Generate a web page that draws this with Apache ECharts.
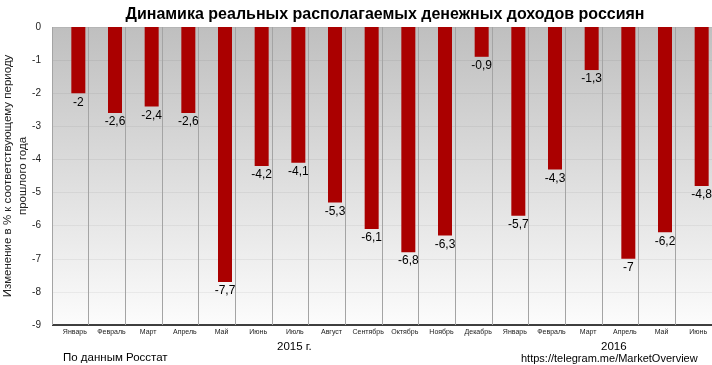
<!DOCTYPE html>
<html><head><meta charset="utf-8">
<script src="https://cdn.jsdelivr.net/npm/echarts@6/dist/echarts.min.js"></script>
<style>html,body{margin:0;padding:0;background:#fff}#c{width:712px;height:365px}</style>
</head><body><div id="c"></div>
<script>
var categories = ['Январь','Февраль','Март','Апрель','Май','Июнь','Июль','Август','Сентябрь','Октябрь','Ноябрь','Декабрь','Январь','Февраль','Март','Апрель','Май','Июнь'];
var values = [-2,-2.6,-2.4,-2.6,-7.7,-4.2,-4.1,-5.3,-6.1,-6.8,-6.3,-0.9,-5.7,-4.3,-1.3,-7,-6.2,-4.8];
var yearLabels = ['2015 г.','2016'];
var titleText = 'Динамика реальных располагаемых денежных доходов россиян';
var yName = 'Изменение в % к соответствующему периоду\nпрошлого года';
var sourceText = 'По данным Росстат';
var linkText = 'https://telegram.me/MarketOverview';

var chart = echarts.init(document.getElementById('c'));
var font = '"Liberation Sans", Arial, sans-serif';
var blanks = categories.map(function(){return null;});
chart.setOption({
  animation:false,
  title:{text:titleText,left:380,textAlign:'center',top:2,textStyle:{fontFamily:font,fontWeight:'bold',fontSize:16,color:'#000'}},
  grid:{left:52,right:0,top:27,bottom:40,show:true,borderWidth:0,outerBoundsMode:'none',containLabel:false,
    backgroundColor:new echarts.graphic.LinearGradient(0,0,0,1,[{offset:0,color:'#bfbfbf'},{offset:1,color:'#fcfcfc'}])},
  xAxis:{type:'category',data:categories,position:'bottom',
    axisLine:{show:false},axisTick:{show:false},
    axisLabel:{fontFamily:font,fontSize:7,color:'#222',margin:4,interval:0,padding:[0,0,0,9]},
    splitLine:{show:true,interval:0,lineStyle:{color:'#a4a4a4',width:1}}},
  yAxis:{type:'value',min:-9,max:0,interval:1,
    axisLine:{show:false},axisTick:{show:false},
    axisLabel:{fontFamily:font,fontSize:10,color:'#222',margin:11},
    splitLine:{show:true,lineStyle:{color:'rgba(0,0,0,0.05)',width:1}}},
  series:[
    {type:'bar',data:blanks,barWidth:14,barGap:'14.3%',itemStyle:{color:'rgba(0,0,0,0)'},silent:true},
    {type:'bar',data:values,barWidth:14,barGap:'14.3%',itemStyle:{color:'#aa0000'},
    label:{show:true,position:'bottom',distance:3,fontFamily:font,fontSize:12,color:'#000',
      formatter:function(p){return String(p.value).replace('.',',');}}}],
  graphic:[
    {type:'line',shape:{x1:52,y1:325,x2:712,y2:325},style:{stroke:'#000',lineWidth:1.5}},
    {type:'text',x:15,y:176,rotation:Math.PI/2,style:{text:yName,font:'11.5px '+font,fill:'#222',align:'center',verticalAlign:'middle',lineHeight:15}},
    {type:'text',x:277,y:353,style:{text:yearLabels[0],font:'11.5px '+font,fill:'#000',verticalAlign:'bottom'}},
    {type:'text',x:601,y:353,style:{text:yearLabels[1],font:'11.5px '+font,fill:'#000',verticalAlign:'bottom'}},
    {type:'text',x:63,y:364,style:{text:sourceText,font:'11.5px '+font,fill:'#000',verticalAlign:'bottom'}},
    {type:'text',x:521,y:364,style:{text:linkText,font:'11px '+font,fill:'#000',verticalAlign:'bottom'}}
  ]
});
</script></body></html>
